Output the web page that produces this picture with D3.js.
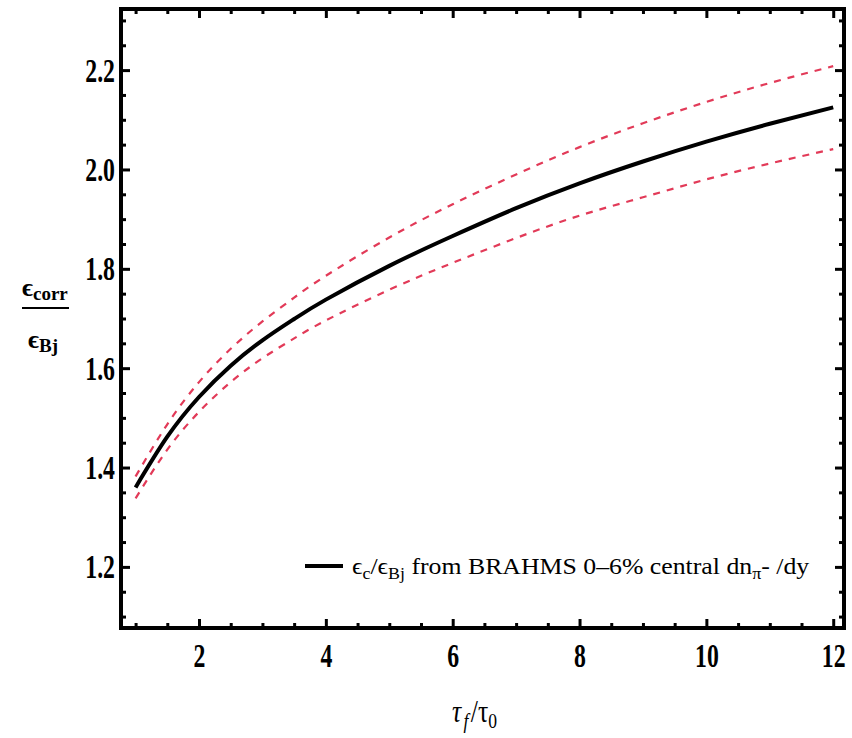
<!DOCTYPE html>
<html>
  <head>
    <meta charset="utf-8">
    <title>Energy density ratio</title>
    <style>
      body { margin: 0; background: #fff; }
      svg text { font-family: "Liberation Serif", "DejaVu Serif", serif !important; }
    </style>
  </head>
  <body>
    <svg id="container" width="852" height="738"></svg>
    <script src="https://cdn.jsdelivr.net/npm/d3@7"></script>
    <script>
      // values
      const tau = [1, 1.5, 2, 2.5, 3, 3.5, 4, 5, 6, 7, 8, 9, 10, 11, 12];
      const central = [1.36, 1.462, 1.542, 1.605, 1.656, 1.699, 1.738, 1.806, 1.866, 1.922, 1.972, 2.016, 2.056, 2.092, 2.125];
      const upper = [1.382, 1.487, 1.572, 1.639, 1.694, 1.742, 1.786, 1.863, 1.93, 1.99, 2.045, 2.093, 2.136, 2.174, 2.208];
      const lower = [1.338, 1.436, 1.512, 1.572, 1.62, 1.66, 1.696, 1.758, 1.812, 1.862, 1.907, 1.944, 1.98, 2.012, 2.041];

      const xMajor = [2, 4, 6, 8, 10, 12];
      const xMinor = d3.range(1, 12.01, 0.5).filter(v => v % 2 !== 0);
      const yMajor = [1.2, 1.4, 1.6, 1.8, 2.0, 2.2];
      const yMinor = d3.range(1.1, 2.31, 0.05).filter(v => Math.abs(Math.round(v * 5) - v * 5) > 1e-6);

      const serif = "'Liberation Serif', 'DejaVu Serif', serif";
      const svg = d3.select("#container");
      const m = { left: 121, right: 844, top: 9, bottom: 628 };

      const x = d3.scaleLinear().domain([0.77, 12.17]).range([m.left, m.right]);
      const y = d3.scaleLinear().domain([1.077, 2.323]).range([m.bottom, m.top]);

      const rows = tau.map((t, i) => ({ t, c: central[i], u: upper[i], l: lower[i] }));

      const line = key => d3.line()
        .x(d => x(d.t))
        .y(d => y(d[key]))
        .curve(d3.curveNatural);

      const plot = svg.append("g");

      // red dashed band
      ["u", "l"].forEach(k => {
        plot.append("path")
          .datum(rows)
          .attr("d", line(k))
          .attr("fill", "none")
          .attr("stroke", "#e23a58")
          .attr("stroke-width", 2.2)
          .attr("stroke-dasharray", "7,7");
      });

      // central curve
      plot.append("path")
        .datum(rows)
        .attr("d", line("c"))
        .attr("fill", "none")
        .attr("stroke", "#000")
        .attr("stroke-width", 4);

      // frame ticks, pointing inward on all four sides
      function ticks(axis, values, size, tr, labels) {
        const g = svg.append("g")
          .attr("transform", tr)
          .call(axis.tickValues(values).tickSize(-size).tickPadding(labels ? 10 : 0)
            .tickFormat(labels ? d3.format(labels) : ""));
        g.attr("font-family", serif);
        g.select(".domain").remove();
        g.selectAll("line").attr("stroke", "#000").attr("stroke-width", 3);
        return g;
      }

      const xb = ticks(d3.axisBottom(x), xMajor, 9, `translate(0,${m.bottom})`, "d");
      ticks(d3.axisBottom(x), xMinor, 5, `translate(0,${m.bottom})`);
      ticks(d3.axisTop(x), xMajor, 9, `translate(0,${m.top})`);
      ticks(d3.axisTop(x), xMinor, 5, `translate(0,${m.top})`);
      const yl = ticks(d3.axisLeft(y), yMajor, 9, `translate(${m.left},0)`, ".1f");
      ticks(d3.axisLeft(y), yMinor, 5, `translate(${m.left},0)`);
      ticks(d3.axisRight(y), yMajor, 9, `translate(${m.right},0)`);
      ticks(d3.axisRight(y), yMinor, 5, `translate(${m.right},0)`);

      xb.selectAll("text")
        .attr("y", 0).attr("dy", 0)
        .attr("transform", "translate(0,39) scale(0.72,1)")
        .attr("font-family", serif)
        .attr("font-size", 33).attr("font-weight", "bold").attr("fill", "#000");
      yl.selectAll("text")
        .attr("x", 0).attr("dy", 0)
        .attr("transform", "translate(-6,11) scale(0.72,1)")
        .attr("font-family", serif)
        .attr("font-size", 33).attr("font-weight", "bold").attr("fill", "#000");

      // frame
      svg.append("rect")
        .attr("x", m.left).attr("y", m.top)
        .attr("width", m.right - m.left).attr("height", m.bottom - m.top)
        .attr("fill", "none").attr("stroke", "#000").attr("stroke-width", 4);

      // y label as a fraction
      const yLab = svg.append("g").attr("font-weight", "bold").attr("font-family", serif);
      const num = yLab.append("text").attr("x", 22).attr("y", 296).attr("font-size", 26);
      num.append("tspan").text("\u03F5");
      num.append("tspan").attr("font-size", 19).attr("dy", 4).text("corr");
      yLab.append("line")
        .attr("x1", 22).attr("x2", 69).attr("y1", 308).attr("y2", 308)
        .attr("stroke", "#000").attr("stroke-width", 2);
      const den = yLab.append("text").attr("x", 28).attr("y", 348).attr("font-size", 26);
      den.append("tspan").text("\u03F5");
      den.append("tspan").attr("font-size", 19).attr("dy", 4).text("Bj");

      // x label
      const xLab = svg.append("text")
        .attr("font-family", serif)
        .attr("transform", "translate(452,722) scale(0.8,1)")
        .attr("font-size", 32);
      xLab.append("tspan").attr("font-style", "italic").text("\u03C4");
      xLab.append("tspan").attr("font-style", "italic").attr("font-size", 22).attr("dx", 3).attr("dy", 6).text("f");
      xLab.append("tspan").attr("dx", 3).attr("dy", -6).text("/\u03C4");
      xLab.append("tspan").attr("font-size", 22).attr("dy", 6).text("0");

      // legend
      svg.append("line")
        .attr("x1", 305).attr("x2", 343).attr("y1", 566).attr("y2", 566)
        .attr("stroke", "#000").attr("stroke-width", 4);
      const leg = svg.append("text").attr("font-family", serif)
        .attr("font-size", 23).attr("x", 0).attr("y", 0);
      leg.append("tspan").text("\u03F5");
      leg.append("tspan").attr("font-size", 16).attr("dy", 5).text("c");
      leg.append("tspan").attr("dy", -5).text("/\u03F5");
      leg.append("tspan").attr("font-size", 16).attr("dy", 5).text("Bj");
      leg.append("tspan").attr("dy", -5).text(" from BRAHMS 0\u20136% central dn");
      leg.append("tspan").attr("font-size", 16).attr("dy", 5).text("\u03C0");
      leg.append("tspan").attr("dy", -5).text("- /dy");
      const w = leg.node().getBBox().width;
      leg.attr("transform", `translate(352,574) scale(${458 / w},1)`);
    </script>
  </body>
</html>
